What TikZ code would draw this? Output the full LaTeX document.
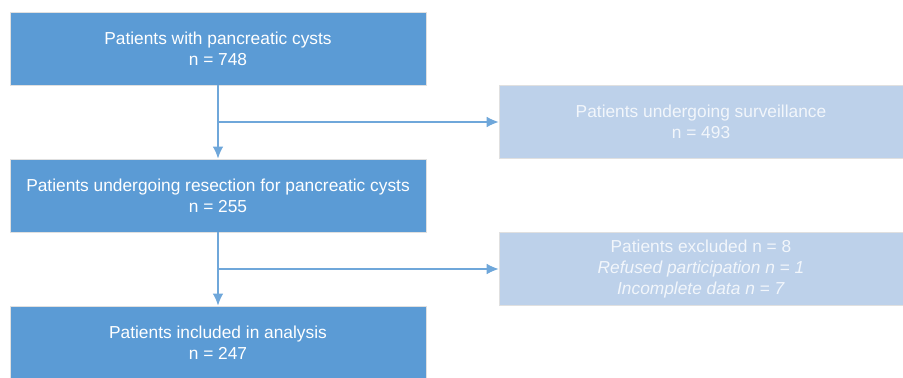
\documentclass[tikz,border=0pt]{standalone}
\usepackage{fontspec}
\setmainfont{Liberation Sans}
\usetikzlibrary{arrows.meta}
\definecolor{boxblue}{HTML}{5B9BD5}
\definecolor{paleblue}{HTML}{BDD1EA}
\definecolor{lineblue}{HTML}{6FA7DA}
\definecolor{paletext}{HTML}{F2F6FB}
\tikzset{
  >={Latex[length=9pt,width=8pt]},
  mainbox/.style = {rectangle, draw=black!12, fill=boxblue, text=white,
                    minimum width=312pt, minimum height=55pt, align=center,
                    font=\fontsize{13}{15.75}\selectfont},
  sidebox/.style = {mainbox, fill=paleblue, text=paletext,
                    minimum width=303pt},
  flow/.style = {draw=lineblue, line width=1.1pt},
}
\begin{document}
\begin{tikzpicture}[x=0.75pt,y=-0.75pt]
\useasboundingbox (0,0) rectangle (903,378);
\node[mainbox] (cysts) at (218,48.5) {Patients with pancreatic cysts\\n = 748};
\node[sidebox] (surv) at (701,122) {Patients undergoing surveillance\\n = 493};
\node[mainbox] (resect) at (218,195.5) {Patients undergoing resection for pancreatic cysts\\n = 255};
\node[sidebox] (excl) at (701,269) {Patients excluded n = 8\\\textit{Refused participation n = 1}\\\textit{Incomplete data n = 7}};
\node[mainbox] (incl) at (218,342.5) {Patients included in analysis\\n = 247};
\coordinate (split1) at (cysts.south |- surv.west);
\coordinate (split2) at (resect.south |- excl.west);
\draw[flow,->] (cysts) -- (resect);
\draw[flow,->] (resect) -- (incl);
\draw[flow,->] (split1) -- (surv);
\draw[flow,->] (split2) -- (excl);
\end{tikzpicture}
\end{document}
